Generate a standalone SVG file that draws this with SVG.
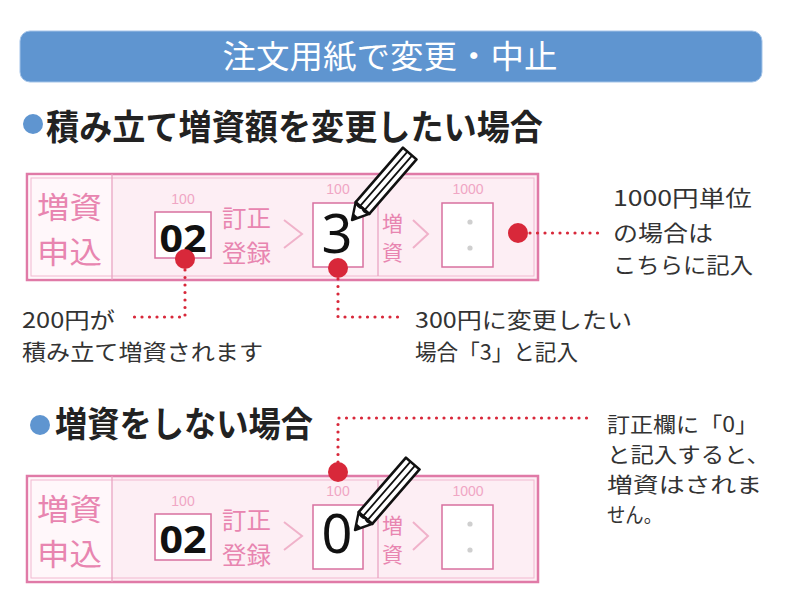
<svg xmlns="http://www.w3.org/2000/svg" width="800" height="600" viewBox="0 0 800 600">
<defs>
<style>
.jp{font-family:"Noto Sans CJK JP","Noto Sans",sans-serif}
.body{font-size:22px;fill:#333}
.sm{font-size:21px}
.head{font-size:35px;font-weight:bold;fill:#222}
.pk{fill:#e885b0}
.lbl{font-family:"Liberation Sans",sans-serif;font-size:14px;fill:#f0a6c4}
.frame{fill:#fdeef4;stroke:#e07aa7;stroke-width:2.5}
.inner{fill:none;stroke:#f2b8d0;stroke-width:1}
.box{fill:#fff;stroke:#d8709f;stroke-width:1.5}
.chev{fill:none;stroke:#f0b2ca;stroke-width:2}
.div{stroke:#e8a0bf;stroke-width:1.2}
.dotline{fill:none;stroke:#d8283a;stroke-width:3.2;stroke-linecap:round;stroke-dasharray:0 7.5}
.rd{fill:#d8283a}
.gd{fill:#cfcfcf}
</style>
<g id="pencil">
<path d="M16,-9 L88,-9 L88,9 L16,9 Z" fill="#fff" stroke="#111" stroke-width="2.6" stroke-linejoin="round"/>
<path d="M16,-3 L88,-3 M16,3 L88,3" stroke="#111" stroke-width="1.8"/>
<path d="M16,-9 Q13,-3 16,0 Q13,3 16,9 L0,0 Z" fill="#fff" stroke="#111" stroke-width="2.4" stroke-linejoin="round"/>
<path d="M0,0 L6,-3.4 L6,3.4 Z" fill="#111"/>
</g>
<g id="form">
<rect class="frame" x="27" y="0" width="511" height="106"/>
<rect x="28.5" y="1.5" width="83" height="103" fill="#fff7fa"/>
<rect class="inner" x="31" y="4" width="503" height="98"/>
<line class="div" x1="112" y1="0" x2="112" y2="106"/>
<line class="div" x1="378" y1="4" x2="378" y2="102"/>
<text class="jp pk" x="37" y="44" font-size="30" textLength="65" lengthAdjust="spacingAndGlyphs">増資</text>
<text class="jp pk" x="37" y="89" font-size="30" textLength="65" lengthAdjust="spacingAndGlyphs">申込</text>
<text class="lbl" x="183" y="30" text-anchor="middle">100</text>
<rect class="box" x="155" y="38" width="56" height="46"/>
<text class="jp pk" x="222" y="53" font-size="24" textLength="49" lengthAdjust="spacingAndGlyphs">訂正</text>
<text class="jp pk" x="222" y="88" font-size="24" textLength="49" lengthAdjust="spacingAndGlyphs">登録</text>
<polyline class="chev" points="284,46 302,60 284,74"/>
<text class="lbl" x="338" y="20" text-anchor="middle">100</text>
<rect class="box" x="313" y="29" width="50" height="64"/>
<text class="jp pk" x="382" y="57" font-size="21">増</text>
<text class="jp pk" x="382" y="86" font-size="21">資</text>
<polyline class="chev" points="413,46 428,60 413,74"/>
<text class="lbl" x="468" y="20" text-anchor="middle">1000</text>
<rect class="box" x="442" y="29" width="51" height="64"/>
<circle class="gd" cx="470" cy="48" r="2.6"/>
<circle class="gd" cx="470" cy="74" r="2.6"/>
</g>
</defs>

<g id="banner">
<rect x="20" y="31" width="742" height="51" rx="10" fill="#5f95d0" stroke="#a3c3e8" stroke-width="1"/>
<text class="jp" x="390" y="68" font-size="32" fill="#fff" text-anchor="middle" textLength="335" lengthAdjust="spacingAndGlyphs">注文用紙で変更・中止</text>
</g>

<g id="heading1">
<circle cx="33" cy="124" r="10" fill="#5f95d0"/>
<text class="jp head" x="46" y="140" textLength="497" lengthAdjust="spacingAndGlyphs">積み立て増資額を変更したい場合</text>
</g>

<g id="form1">
<use href="#form" x="0" y="174"/>
<text x="183" y="252" font-family="Noto Sans, sans-serif" font-size="38" font-weight="bold" fill="#111" text-anchor="middle" textLength="47" lengthAdjust="spacingAndGlyphs">02</text>
<text x="337" y="253" font-family="Noto Sans, sans-serif" font-size="54" fill="#111" text-anchor="middle">3</text>
<use href="#pencil" transform="translate(352,220) rotate(-49)"/>
</g>

<g id="heading2">
<circle cx="40" cy="425" r="10" fill="#5f95d0"/>
<text class="jp head" x="55" y="437" textLength="258" lengthAdjust="spacingAndGlyphs">増資をしない場合</text>
</g>

<g id="form2">
<use href="#form" x="0" y="476"/>
<text x="183" y="553" font-family="Noto Sans, sans-serif" font-size="38" font-weight="bold" fill="#111" text-anchor="middle" textLength="47" lengthAdjust="spacingAndGlyphs">02</text>
<text x="337" y="553" font-family="Noto Sans, sans-serif" font-size="54" fill="#111" text-anchor="middle">0</text>
<use href="#pencil" transform="translate(355,530) rotate(-49)"/>
</g>

<g id="connectors">
<polyline class="dotline" points="185,270 185,317 133,317"/>
<polyline class="dotline" points="338,279 338,317 405,317"/>
<polyline class="dotline" points="530,233 598,233"/>
<polyline class="dotline" points="338,462 338,418 590,418"/>
<circle class="rd" cx="185" cy="259" r="10"/>
<circle class="rd" cx="338" cy="268" r="10"/>
<circle class="rd" cx="518" cy="233" r="10"/>
<circle class="rd" cx="338" cy="472" r="10"/>
</g>

<g id="note-1000">
<text class="jp body" x="613" y="206" textLength="139" lengthAdjust="spacingAndGlyphs">1000円単位</text>
<text class="jp body" x="613" y="241" textLength="100" lengthAdjust="spacingAndGlyphs">の場合は</text>
<text class="jp body" x="613" y="273" textLength="140" lengthAdjust="spacingAndGlyphs">こちらに記入</text>
</g>

<g id="note-200">
<text class="jp body" x="22" y="328" textLength="93" lengthAdjust="spacingAndGlyphs">200円が</text>
<text class="jp body" x="22" y="360" textLength="241" lengthAdjust="spacingAndGlyphs">積み立て増資されます</text>
</g>

<g id="note-300">
<text class="jp body" x="415" y="328" textLength="217" lengthAdjust="spacingAndGlyphs">300円に変更したい</text>
<text class="jp body" x="415" y="360" textLength="163" lengthAdjust="spacingAndGlyphs">場合「3」と記入</text>
</g>

<g id="note-0">
<text class="jp body sm" x="607" y="432" textLength="151" lengthAdjust="spacingAndGlyphs">訂正欄に「0」</text>
<text class="jp body sm" x="607" y="462" textLength="163" lengthAdjust="spacingAndGlyphs">と記入すると、</text>
<text class="jp body sm" x="607" y="492" textLength="155" lengthAdjust="spacingAndGlyphs">増資はされま</text>
<text class="jp body sm" x="607" y="522" textLength="55" lengthAdjust="spacingAndGlyphs">せん。</text>
</g>
</svg>
